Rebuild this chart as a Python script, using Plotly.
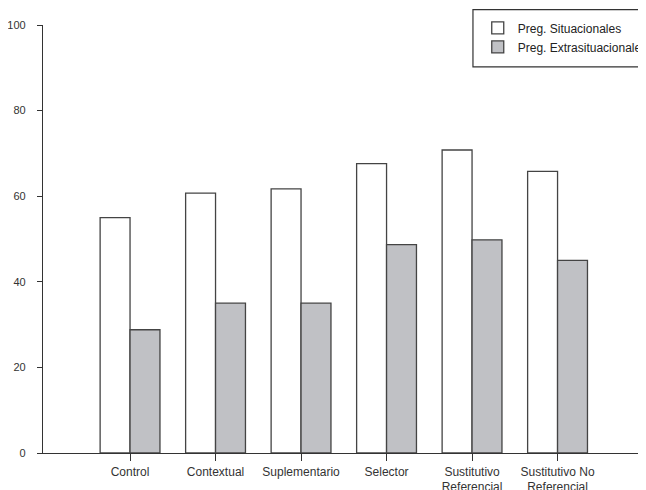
import plotly.graph_objects as go

categories = ["Control", "Contextual", "Suplementario", "Selector",
              "Sustitutivo<br>Referencial", "Sustitutivo No<br>Referencial"]
situacionales = [55, 60.7, 61.7, 67.6, 70.8, 65.8]
extrasituacionales = [28.8, 35, 35, 48.7, 49.8, 45]
y_ticks = [0, 20, 40, 60, 80, 100]

x_idx = list(range(len(categories)))

fig = go.Figure()
fig.add_trace(go.Bar(
    x=x_idx, y=situacionales, name="Preg. Situacionales",
    marker=dict(color="white", line=dict(color="#444444", width=1.3)),
))
fig.add_trace(go.Bar(
    x=x_idx, y=extrasituacionales, name="Preg. Extrasituacionales",
    marker=dict(color="#c0c1c5", line=dict(color="#444444", width=1.3)),
))

# legend frame (decoration)
fig.add_shape(type="rect", xref="paper", yref="paper",
              x0=0.719, x1=1.1, y0=0.902, y1=1.036,
              line=dict(color="#333333", width=1.2), fillcolor="rgba(0,0,0,0)")

fig.update_layout(
    width=638, height=482,
    margin=dict(l=35, r=5, t=17, b=37, autoexpand=False),
    paper_bgcolor="white", plot_bgcolor="white",
    barmode="group", bargap=0.3, bargroupgap=0,
    font=dict(family="Liberation Sans, Arial, sans-serif", size=12, color="#333333"),
    showlegend=True,
    legend=dict(
        x=0.727, xanchor="left", y=1.027, yanchor="top",
        bgcolor="rgba(0,0,0,0)", borderwidth=0,
        font=dict(size=12, color="#222222"),
        tracegroupgap=0,
    ),
    xaxis=dict(
        tickmode="array", tickvals=x_idx, ticktext=categories,
        range=[-1.018, 5.976],
        showline=True, linecolor="#333333", linewidth=1.3,
        ticks="outside", ticklen=7, tickwidth=1.2, tickcolor="#333333",
        showgrid=False, zeroline=False,
        tickfont=dict(size=12),
    ),
    yaxis=dict(
        range=[0, 100], tickvals=y_ticks,
        showline=True, linecolor="#333333", linewidth=1.3,
        ticks="outside", ticklen=5, tickwidth=1.2, tickcolor="#333333",
        showgrid=False, zeroline=False,
        tickfont=dict(size=11), ticklabelstandoff=9,
    ),
)

fig.write_html("out.html")
